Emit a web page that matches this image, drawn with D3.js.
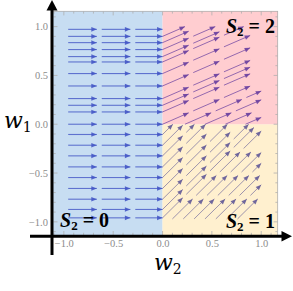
<!DOCTYPE html>
<html>
<head>
<meta charset="utf-8">
<script src="https://cdn.jsdelivr.net/npm/d3@7"></script>
<style>
  body { margin: 0; background: #fff; }
</style>
</head>
<body>
<svg id="chart" width="293" height="291"></svg>
<script>
// tick values and labels
const tickValues = [-1, -0.5, 0, 0.5, 1];
const tickLabels = ["\u22121.0", "\u22120.5", "0.0", "0.5", "1.0"];
// the three regions: S2 = 0 (w2 < 0), S2 = 1 (w2 > 0, w1 < 0), S2 = 2 (w2 > 0, w1 > 0)
const regionLabels = ["0", "1", "2"];
const regionFill = ["#c7ddf2", "#fff0cf", "#ffcdd0"];
const regionLine = ["#4558c6", "#655c98", "#6a40a0"];
// field direction in each region, as (dw2, dw1)
const regionDirs = [[1, 0], [1, 1], [1, 0.44]];
// S2 = 0: horizontal streamlines, by w1
const blueRows = [0.972, 0.90, 0.836, 0.765, 0.693, 0.638, 0.519, 0.392, 0.263, 0.194,
  0.126, 0.0, -0.105, -0.215, -0.324, -0.437, -0.546, -0.658, -0.768, -0.873, -0.959];
const blueStart = -0.956;
// S2 = 2: streamlines w1 = 0.44 w2 + d, by d
const pinkOffsets = [0.972, 0.90, 0.836, 0.765, 0.693, 0.638, 0.519, 0.392, 0.263, 0.194,
  0.126, 0.0, -0.10, -0.19, -0.28, -0.37];
// S2 = 1: streamlines w1 = w2 + c, by c
const yellowOffsets = [-0.105, -0.215, -0.324, -0.437, -0.546, -0.658, -0.768, -0.873,
  -0.959, -1.07, -1.18, -1.29, -1.40, -1.51, -1.62, -1.73];

const svg = d3.select("#chart");
const x = d3.scaleLinear().domain([-1.12, 1.17]).range([52, 278]);
const y = d3.scaleLinear().domain([-1.145, 1.16]).range([236, 11]);

// background regions
svg.append("rect").attr("x", x(-1.12)).attr("y", y(1.16))
  .attr("width", x(0) - x(-1.12)).attr("height", y(-1.145) - y(1.16)).attr("fill", regionFill[0]);
svg.append("rect").attr("x", x(0)).attr("y", y(0))
  .attr("width", x(1.17) - x(0)).attr("height", y(-1.145) - y(0)).attr("fill", regionFill[1]);
svg.append("rect").attr("x", x(0)).attr("y", y(1.16))
  .attr("width", x(1.17) - x(0)).attr("height", y(0) - y(1.16)).attr("fill", regionFill[2]);

// grey frame on top and right with small ticks
const frame = svg.append("g").attr("stroke", "#b0b0b0").attr("stroke-width", 0.8);
frame.append("line").attr("x1", 52).attr("x2", 278).attr("y1", 11.4).attr("y2", 11.4);
frame.append("line").attr("x1", 277.6).attr("x2", 277.6).attr("y1", 11).attr("y2", 236);
const majorSet = new Set(tickValues.map(d => d.toFixed(1)));
x.ticks(20).forEach(t => {
  const len = majorSet.has(t.toFixed(1)) ? 4 : 2.2;
  frame.append("line").attr("x1", x(t)).attr("x2", x(t)).attr("y1", 11.4).attr("y2", 11.4 + len);
  frame.append("line").attr("x1", x(t)).attr("x2", x(t)).attr("y1", 235).attr("y2", 235 - len);
});
y.ticks(20).forEach(t => {
  const len = majorSet.has(t.toFixed(1)) ? 4 : 2.2;
  frame.append("line").attr("y1", y(t)).attr("y2", y(t)).attr("x1", 277.6).attr("x2", 277.6 - len);
  frame.append("line").attr("y1", y(t)).attr("y2", y(t)).attr("x1", 53.5).attr("x2", 53.5 + len);
});

// length along unit direction u from p until leaving the box [x0, x1] x [y0, y1]
function runLength(p, u, box) {
  let t = Infinity;
  if (u[0] > 0) t = Math.min(t, (box[1] - p[0]) / u[0]);
  if (u[1] > 0) t = Math.min(t, (box[3] - p[1]) / u[1]);
  return Math.max(0, t);
}

// streamlines: start point, region, clip box
const streamlines = [];
blueRows.forEach(r => streamlines.push({ p: [blueStart, r], r: 0, box: [-1, 0, -1, 1] }));
pinkOffsets.forEach(d => streamlines.push({
  p: d >= 0 ? [0, d] : [-d / regionDirs[2][1], 0], r: 2, box: [0, 1, 0, 1]
}));
yellowOffsets.forEach(c => streamlines.push({
  p: c >= -0.97 ? [0, c] : [-0.97 - c, -0.97], r: 1, box: [0, 1, -1, 0]
}));

const period = 0.34, pieceLen = 0.29, minLen = 0.1;
const pieces = [];
streamlines.forEach(s => {
  const d = regionDirs[s.r], n = Math.hypot(d[0], d[1]);
  const u = [d[0] / n, d[1] / n];
  const total = runLength(s.p, u, s.box);
  for (let a = 0; a < total; a += period) {
    const b = Math.min(a + pieceLen, total);
    if (b - a < minLen) break;
    pieces.push({
      r: s.r,
      from: [s.p[0] + u[0] * a, s.p[1] + u[1] * a],
      to: [s.p[0] + u[0] * b, s.p[1] + u[1] * b]
    });
  }
});

const line = d3.line().x(d => x(d[0])).y(d => y(d[1]));
const streams = svg.append("g");
pieces.forEach(pc => {
  const col = regionLine[pc.r];
  streams.append("path").attr("d", line([pc.from, pc.to])).attr("fill", "none")
    .attr("stroke", col).attr("stroke-width", pc.r === 0 ? 1.1 : 0.9)
    .attr("stroke-opacity", pc.r === 1 ? 0.7 : 0.8);
  // arrowhead at the end of the piece
  const ex = x(pc.to[0]), ey = y(pc.to[1]);
  const dx = ex - x(pc.from[0]), dy = ey - y(pc.from[1]);
  const n = Math.hypot(dx, dy), ux = dx / n, uy = dy / n;
  const L = 5.5, W = 2.3;
  const bx = ex - ux * L, by = ey - uy * L;
  streams.append("path")
    .attr("d", `M${ex},${ey}L${bx - uy * W},${by + ux * W}L${bx + uy * W},${by - ux * W}Z`)
    .attr("fill", col).attr("fill-opacity", 0.9);
});

// tick labels
const labelStyle = g => g.call(s => s.select(".domain").remove())
  .selectAll("text").attr("fill", "#8c8c8c")
  .style("font-family", "'Liberation Serif', serif").style("font-size", "10.5px");
svg.append("g").attr("transform", "translate(50,0)")
  .call(d3.axisLeft(y).tickValues(tickValues).tickFormat((d, i) => tickLabels[i]).tickSize(0).tickPadding(2))
  .call(labelStyle);
svg.append("g").attr("transform", "translate(0,238)")
  .call(d3.axisBottom(x).tickValues(tickValues).tickFormat((d, i) => tickLabels[i]).tickSize(0).tickPadding(2))
  .call(labelStyle);

// black axes with arrows
svg.append("line").attr("x1", 52).attr("x2", 52).attr("y1", 255).attr("y2", 8)
  .attr("stroke", "#000").attr("stroke-width", 3);
svg.append("path").attr("d", "M52,0L46.5,10.5L57.5,10.5Z").attr("fill", "#000");
svg.append("line").attr("x1", 30).attr("x2", 283).attr("y1", 236.3).attr("y2", 236.3)
  .attr("stroke", "#000").attr("stroke-width", 3);
svg.append("path").attr("d", "M292,236.3L281.5,231L281.5,241.6Z").attr("fill", "#000");

// axis names
function axisName(px, py, sub) {
  const t = svg.append("text").attr("x", px).attr("y", py)
    .style("font-family", "'DejaVu Serif', serif").attr("fill", "#000");
  t.append("tspan").text("w").style("font-style", "italic").style("font-size", "22px");
  t.append("tspan").text(sub).style("font-size", "14px").attr("dy", 4);
}
axisName(4, 128, "1");
axisName(154, 270, "2");

// region labels
function regionName(px, py, anchor, lab) {
  const t = svg.append("text").attr("x", px).attr("y", py).attr("text-anchor", anchor)
    .style("font-family", "'Liberation Serif', serif").style("font-weight", "bold").attr("fill", "#000");
  t.append("tspan").text("S").style("font-style", "italic").style("font-size", "20px");
  t.append("tspan").text("2").style("font-size", "13px").attr("dy", 3);
  t.append("tspan").text(" = " + lab).style("font-size", "20px").attr("dy", -3);
}
regionName(60, 227, "start", regionLabels[0]);
regionName(275, 228, "end", regionLabels[1]);
regionName(275, 32.5, "end", regionLabels[2]);
</script>
</body>
</html>
